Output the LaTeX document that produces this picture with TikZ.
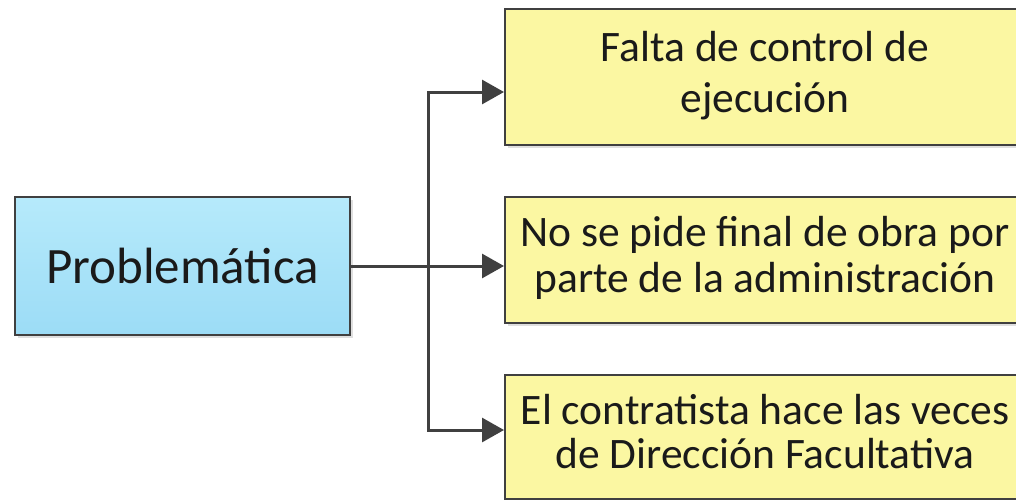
\documentclass[tikz,border=0pt]{standalone}
\usepackage{fontspec}
\setmainfont{Carlito}
\usetikzlibrary{arrows.meta,shadows}
\definecolor{lineg}{HTML}{404040}
\definecolor{bluetop}{HTML}{B6EAFB}
\definecolor{bluebot}{HTML}{9CDCF6}
\definecolor{yel}{HTML}{FBF7A2}
\definecolor{txt}{HTML}{1A1A1A}
\newcommand{\ylines}[3]{\raisebox{#1}[0pt][0pt]{\vtop{\baselineskip=#2\lineskiplimit=-1000pt\halign{\hfil##\hfil\cr#3\cr}}}}
\tikzset{
  box/.style={draw=lineg, line width=2pt, inner sep=0pt, text=txt,
    drop shadow={shadow xshift=3pt, shadow yshift=-3pt, fill=black!25, opacity=0.5}},
  probbox/.style={box, top color=bluetop, bottom color=bluebot,
    minimum width=335pt, minimum height=138pt, font=\fontsize{51}{60}\selectfont},
  ybox/.style={box, fill=yel, minimum width=520pt,
    font=\fontsize{43.5}{48}\selectfont},
  conn/.style={draw=lineg, line width=3pt},
  arr/.style={conn, -{Triangle[length=22pt,width=24pt]}}
}
\begin{document}
\begin{tikzpicture}[x=1pt,y=-1pt]
\useasboundingbox (0,0) rectangle (1016,499);
\clip (0,0) rectangle (1016,499);
\node[probbox] (prob) at (182.5,266) {Problemática};
\node[ybox, minimum height=136pt] (top) at (765,77) {\ylines{15.5pt}{51pt}{Falta de control de\cr ejecución}};
\node[ybox, minimum height=126pt] (mid) at (765,260) {\ylines{14pt}{46pt}{No se pide final de obra por\cr parte de la administración}};
\node[ybox, minimum height=124pt] (bot) at (765,436.5) {\ylines{12.5pt}{44pt}{El contratista hace las veces\cr de Dirección Facultativa}};
\coordinate (j) at (428,266);
\coordinate (ta) at (504,92);
\coordinate (ma) at (504,266);
\coordinate (ba) at (504,430);
\draw[conn] (prob.east) -- (j);
\draw[arr] (j) |- (ta);
\draw[arr] (j) -- (ma);
\draw[arr] (j) |- (ba);
\end{tikzpicture}
\end{document}
